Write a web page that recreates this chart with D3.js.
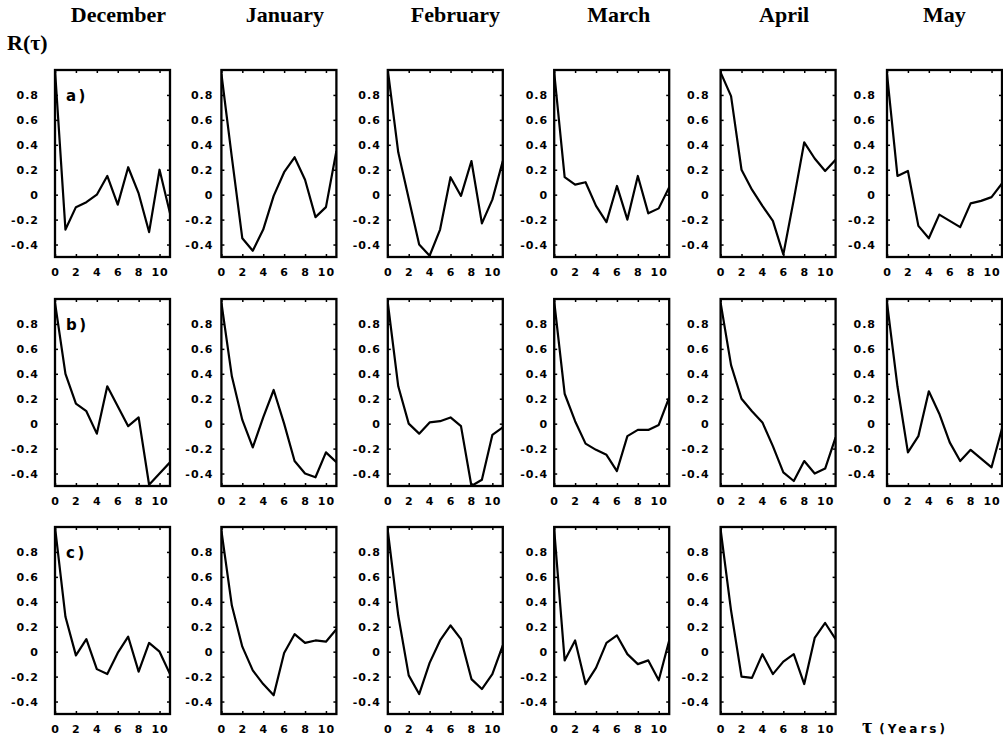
<!DOCTYPE html>
<html>
<head>
<meta charset="utf-8">
<script src="https://cdn.jsdelivr.net/npm/d3@7"></script>
<style>
  html, body { margin: 0; padding: 0; background: #fff; }
  svg { display: block; }
</style>
</head>
<body>
<svg id="chart" width="1003" height="740"></svg>
<script>
// ---------- data ----------
const months = ["December", "January", "February", "March", "April", "May"];
const rowLabels = ["a)", "b)", "c)"];
const lags = [0, 1, 2, 3, 4, 5, 6, 7, 8, 9, 10, 11];
const yTicks = [-0.4, -0.2, 0, 0.2, 0.4, 0.6, 0.8];
const xTicks = [0, 2, 4, 6, 8, 10];

// row a)
const aDec = [1.0, -0.28, -0.1, -0.06, 0.0, 0.15, -0.08, 0.22, 0.01, -0.3, 0.2, -0.15];
const aJan = [0.97, 0.3, -0.35, -0.45, -0.28, -0.01, 0.18, 0.3, 0.12, -0.18, -0.1, 0.35];
const aFeb = [1.0, 0.34, -0.03, -0.4, -0.49, -0.28, 0.14, -0.01, 0.27, -0.23, -0.04, 0.27];
const aMar = [0.98, 0.14, 0.08, 0.1, -0.09, -0.22, 0.07, -0.2, 0.15, -0.15, -0.11, 0.06];
const aApr = [0.98, 0.79, 0.2, 0.04, -0.09, -0.21, -0.48, -0.04, 0.42, 0.29, 0.19, 0.28];
const aMay = [0.97, 0.15, 0.19, -0.25, -0.35, -0.16, -0.21, -0.26, -0.07, -0.05, -0.02, 0.09];
// row b)
const bDec = [0.97, 0.4, 0.16, 0.1, -0.08, 0.3, 0.14, -0.02, 0.05, -0.49, -0.4, -0.31];
const bJan = [0.97, 0.38, 0.03, -0.19, 0.05, 0.27, 0.0, -0.3, -0.4, -0.43, -0.23, -0.31];
const bFeb = [0.97, 0.3, 0.0, -0.08, 0.01, 0.02, 0.05, -0.02, -0.5, -0.45, -0.09, -0.03];
const bMar = [0.98, 0.24, 0.02, -0.16, -0.21, -0.25, -0.38, -0.1, -0.05, -0.05, -0.01, 0.21];
const bApr = [0.97, 0.47, 0.2, 0.1, 0.01, -0.18, -0.39, -0.46, -0.3, -0.4, -0.36, -0.11];
const bMay = [0.97, 0.3, -0.23, -0.1, 0.26, 0.08, -0.15, -0.3, -0.21, -0.28, -0.35, -0.04];
// row c)
const cDec = [1.0, 0.28, -0.03, 0.1, -0.14, -0.18, -0.01, 0.12, -0.16, 0.07, 0.0, -0.18];
const cJan = [0.97, 0.37, 0.04, -0.15, -0.26, -0.35, -0.01, 0.14, 0.07, 0.09, 0.08, 0.18];
const cFeb = [0.97, 0.29, -0.19, -0.34, -0.09, 0.09, 0.21, 0.1, -0.22, -0.3, -0.18, 0.05];
const cMar = [0.98, -0.07, 0.09, -0.26, -0.13, 0.07, 0.13, -0.02, -0.1, -0.07, -0.23, 0.09];
const cApr = [0.98, 0.33, -0.2, -0.21, -0.02, -0.18, -0.08, -0.02, -0.26, 0.11, 0.23, 0.1];

const grid = [
  [aDec, aJan, aFeb, aMar, aApr, aMay],
  [bDec, bJan, bFeb, bMar, bApr, bMay],
  [cDec, cJan, cFeb, cMar, cApr, null]
];

// ---------- layout ----------
const colLeft0 = 55, colStep = 166.4, panelW = 115, panelH = 187;
const rowTops = [70, 299, 527];
const labelGap = [16, 8, 7, 6, 11, 11];
const titleShift = [6, 6, 10, 7, 6, 0];

const svg = d3.select("#chart");
const x = d3.scaleLinear().domain([0, 11]).range([0, panelW]);
const y = d3.scaleLinear().domain([-0.5, 1.0]).range([panelH, 0]);
const line = d3.line().x((d, i) => x(lags[i])).y(d => y(d));

const tickFont = "'DejaVu Sans', sans-serif";

// month titles
months.forEach((m, ci) => {
  const left = colLeft0 + ci * colStep;
  svg.append("text")
    .attr("x", left + panelW / 2 + titleShift[ci])
    .attr("y", 22)
    .attr("text-anchor", "middle")
    .attr("font-family", "'Liberation Serif', serif")
    .attr("font-weight", "bold")
    .attr("font-size", 22)
    .text(m);
});

// R(tau)
svg.append("text")
  .attr("x", 7).attr("y", 50)
  .attr("font-family", "'Liberation Serif', serif")
  .attr("font-weight", "bold")
  .attr("font-size", 22)
  .text("R(τ)");

svg.append("defs").append("clipPath").attr("id", "clip")
  .append("rect").attr("x", 0).attr("y", 0).attr("width", panelW).attr("height", panelH);

grid.forEach((row, ri) => {
  row.forEach((vals, ci) => {
    if (!vals) return;
    const g = svg.append("g")
      .attr("transform", `translate(${colLeft0 + ci * colStep},${rowTops[ri]})`);

    const la = g.append("g").call(
      d3.axisLeft(y).tickValues(yTicks).tickSize(-3).tickPadding(labelGap[ci])
        .tickFormat(d => String(d)));
    const ra = g.append("g").attr("transform", `translate(${panelW},0)`).call(
      d3.axisRight(y).tickValues(yTicks).tickSize(-3).tickFormat(""));
    const ba = g.append("g").attr("transform", `translate(0,${panelH})`).call(
      d3.axisBottom(x).tickValues(xTicks).tickSize(-3).tickPadding(11)
        .tickFormat(d => String(d)));
    const ta = g.append("g").call(
      d3.axisTop(x).tickValues(xTicks).tickSize(-3).tickFormat(""));

    [la, ra, ba, ta].forEach(a => {
      a.select(".domain").remove();
      a.selectAll(".tick line").attr("stroke", "#000").attr("stroke-width", 1.5);
      a.selectAll("text")
        .attr("font-family", tickFont)
        .attr("font-weight", "bold")
        .attr("font-size", 11)
        .attr("letter-spacing", 1)
        .attr("fill", "#000");
    });

    g.append("rect")
      .attr("x", 0).attr("y", 0).attr("width", panelW).attr("height", panelH)
      .attr("fill", "none").attr("stroke", "#000").attr("stroke-width", 2.3);

    g.append("path")
      .datum(vals)
      .attr("clip-path", "url(#clip)")
      .attr("fill", "none")
      .attr("stroke", "#000")
      .attr("stroke-width", 2.2)
      .attr("stroke-linejoin", "round")
      .attr("d", line);

    if (ci === 0) {
      g.append("text")
        .attr("x", 11).attr("y", y(0.8) + 6)
        .attr("font-family", tickFont)
        .attr("font-weight", "bold")
        .attr("font-size", 15)
        .attr("letter-spacing", 2.5)
        .text(rowLabels[ri]);
    }
  });
});

// x axis caption
const cap = svg.append("text")
  .attr("x", 862).attr("y", 733)
  .attr("font-weight", "bold");
cap.append("tspan")
  .attr("font-family", "'Liberation Serif', serif")
  .attr("font-size", 22)
  .text("τ");
cap.append("tspan")
  .attr("dx", 7)
  .attr("font-family", tickFont)
  .attr("font-size", 12)
  .attr("letter-spacing", 3)
  .text("(Years)");
</script>
</body>
</html>
